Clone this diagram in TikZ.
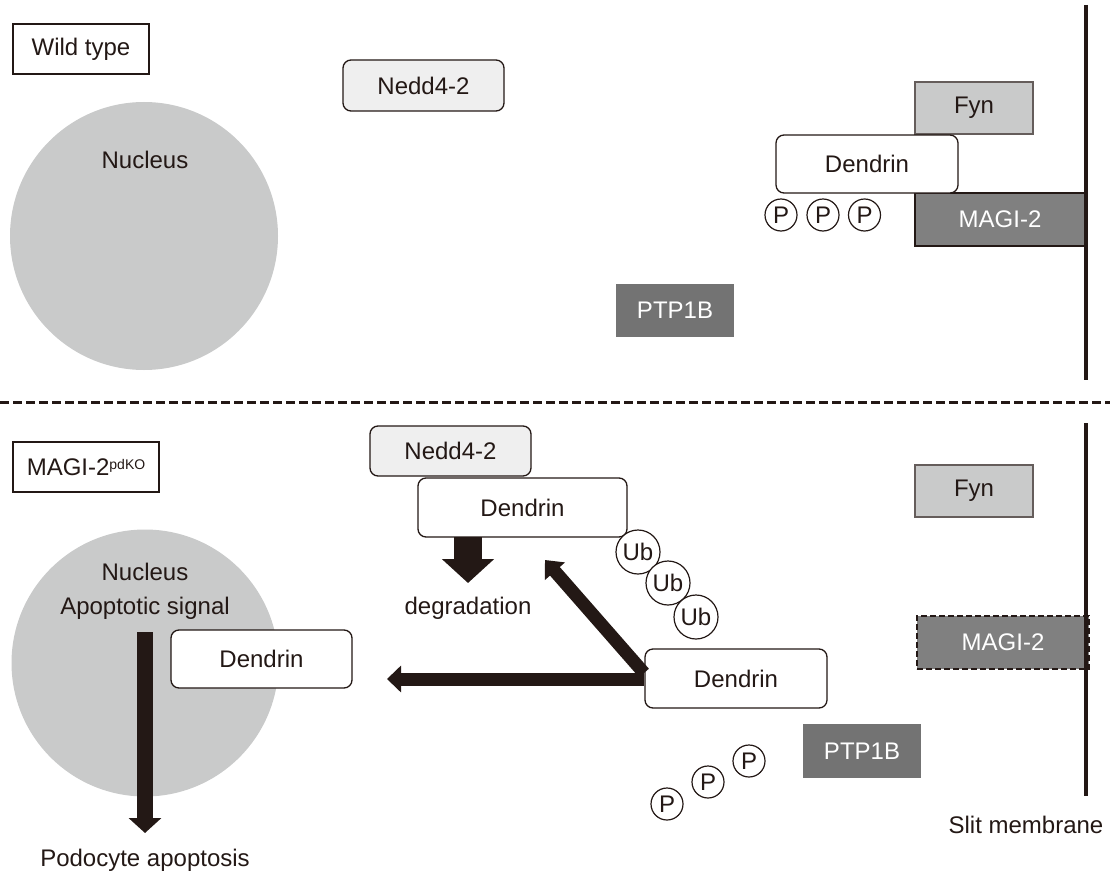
\documentclass[tikz,border=0pt]{standalone}
\usepackage{fontspec}
\setmainfont{Liberation Sans}
\usetikzlibrary{arrows.meta,backgrounds}
\definecolor{ink}{HTML}{231815}
\definecolor{nucgray}{HTML}{C9CACA}
\definecolor{fyngray}{HTML}{C9CACA}
\definecolor{magigray}{HTML}{808080}
\definecolor{ptpgray}{HTML}{737373}
\definecolor{nedgray}{HTML}{EFEFEF}
\begin{document}
\begin{tikzpicture}[x=1pt,y=-1pt,
  every node/.style={font=\fontsize{24}{28}\selectfont, text=ink, inner sep=0pt},
  labelbox/.style={draw=ink, line width=1.3pt, fill=white},
  roundbox/.style={draw=ink, line width=1.3pt, fill=white, rounded corners=8pt},
  nedbox/.style={roundbox, fill=nedgray},
  fynbox/.style={draw=ink!70, line width=1.2pt, fill=fyngray},
  magibox/.style={draw=ink, line width=1.2pt, fill=magigray, text=white},
  ptpbox/.style={fill=ptpgray, text=white},
  nucleus/.style={circle, fill=nucgray},
  pcirc/.style={circle, draw=ink, line width=1.2pt, fill=white, minimum size=32pt},
  ubcirc/.style={circle, draw=ink, line width=1.2pt, fill=white, minimum size=44pt},
  membrane/.style={draw=ink, line width=4pt}
]
\useasboundingbox (0,0) rectangle (1110,872);

% ---------- Wild type ----------
\node[nucleus, minimum size=268pt] (nuc1) at (144,236) {};
\node (nuc1lbl) at (145,160) {Nucleus};
\node[labelbox, minimum width=136pt, minimum height=50pt] (wt) at (81,49) {Wild type};
\node[nedbox, minimum width=161pt, minimum height=51pt] (ned1) at (423.5,85.5) {Nedd4-2};
\node[fynbox, minimum width=118pt, minimum height=52pt] (fyn1) at (974,108) {Fyn};
\node[magibox, minimum width=170pt, minimum height=53pt] (magi1) at (1000,219.5) {MAGI-2};
\node[roundbox, minimum width=182pt, minimum height=58pt] (den1) at (867,164) {Dendrin};
\node[pcirc] (p1a) at (781,215) {P};
\node[pcirc] (p1b) at (823,215) {P};
\node[pcirc] (p1c) at (864.5,215) {P};
\node[ptpbox, minimum width=118pt, minimum height=53pt] (ptp1) at (675,310.5) {PTP1B};
\coordinate (mem1top) at (1086,5);
\coordinate (mem1bot) at (1086,380);
\draw[membrane] (mem1top) -- (mem1bot);

% ---------- divider ----------
\coordinate (divl) at (0,402);
\coordinate (divr) at (1110,402);
\draw[ink, line width=3pt, dash pattern=on 9pt off 4pt] (divl) -- (divr);

% ---------- MAGI-2 pdKO ----------
\node[nucleus, minimum size=267pt] (nuc2) at (145,663) {};
\node (nuc2lbl) at (145,572) {Nucleus};
\node (apo) at (145,608) {Apoptotic signal};
\node[labelbox, minimum width=146pt, minimum height=50pt] (ko) at (86,467) {MAGI-2\raisebox{6pt}{\fontsize{14}{14}\selectfont pdKO}};
\node[nedbox, minimum width=161pt, minimum height=50pt] (ned2) at (450.5,451) {Nedd4-2};
\node[roundbox, minimum width=209pt, minimum height=59pt] (den2a) at (522.5,507.5) {Dendrin};
\node[ubcirc] (ub1) at (638,552) {Ub};
\node[ubcirc] (ub2) at (668,583) {Ub};
\node[ubcirc] (ub3) at (696,617) {Ub};
\node (deg) at (468,608) {degradation};
\node[fynbox, minimum width=118pt, minimum height=52pt] (fyn2) at (974,491) {Fyn};
\node[magibox, dash pattern=on 6pt off 3pt, line width=2.8pt, minimum width=172pt, minimum height=53pt] (magi2) at (1003,642.5) {MAGI-2};
\node[ptpbox, minimum width=118pt, minimum height=54pt] (ptp2) at (862,751) {PTP1B};
\node[pcirc] (p2a) at (667,804) {P};
\node[pcirc] (p2b) at (708,782) {P};
\node[pcirc] (p2c) at (749,761) {P};
\coordinate (mem2top) at (1086,423);
\coordinate (mem2bot) at (1086,796);
\draw[membrane] (mem2top) -- (mem2bot);
\node (slit) at (1026,825) {Slit membrane};
\node[roundbox, minimum width=181pt, minimum height=58pt] (den2c) at (261.5,659) {Dendrin};
\node (podo) at (145,860) {Podocyte apoptosis};
\node[roundbox, minimum width=182pt, minimum height=59pt] (den2b) at (736,678.5) {Dendrin};

% ---------- arrows ----------
\coordinate (vstart) at (145,632);
\coordinate (vend) at (145,833);
\draw[ink, line width=16pt, -{Triangle[width=32pt,length=15pt]}] (vstart) -- (vend);

\coordinate (degstart) at (468,537);
\coordinate (degend) at (468,583);
\draw[ink, line width=28pt, -{Triangle[width=51pt,length=24pt]}] (degstart) -- (degend);

\coordinate (dstart) at (644,673);
\coordinate (dend) at (545,560);
\draw[ink, line width=13pt, -{Triangle[width=26pt,length=15pt]}] (dstart) -- (dend);

\coordinate (hend) at (387,679);
\draw[ink, line width=13pt, -{Triangle[width=26pt,length=14pt]}] (den2b.west |- hend) -- (hend);
\end{tikzpicture}
\end{document}
